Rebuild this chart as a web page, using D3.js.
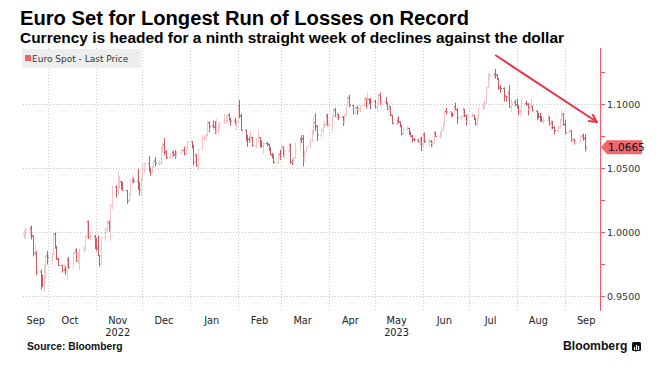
<!DOCTYPE html>
<html>
<head>
<meta charset="utf-8">
<script src="https://cdn.jsdelivr.net/npm/d3@7/dist/d3.min.js"></script>
<style>
  body { margin: 0; background: #fff; }
  svg text { font-family: "DejaVu Sans", sans-serif; }
</style>
</head>
<body>
<svg id="chart" width="666" height="376"></svg>
<script>
// daily EUR/USD bars, one value per weekday from 15 Sep 2022 to 15 Sep 2023
var closes = [
  0.9998,1.0016,1.0027,0.9971,0.9837,0.9837,0.9690,0.9607,0.9593,0.9735,0.9815,0.9802, // Sep
  0.9824,0.9986,0.9884,0.9792,0.9740,0.9700,0.9708,0.9703,0.9779,0.9723,0.9838,0.9857,0.9775,0.9779,0.9862,0.9880,0.9966,1.0079,0.9963,0.9966,0.9882, // Oct
  0.9877,0.9819,0.9750,0.9960,1.0019,1.0074,1.0011,1.0208,1.0354,1.0325,1.0351,1.0395,1.0363,1.0325,1.0244,1.0302,1.0397,1.0408,1.0398,1.0339,1.0332,1.0405, // Nov
  1.0523,1.0537,1.0492,1.0467,1.0506,1.0554,1.0537,1.0538,1.0629,1.0682,1.0627,1.0583,1.0608,1.0624,1.0604,1.0597,1.0618,1.0639,1.0639,1.0611,1.0661,1.0705, // Dec
  1.0669,1.0545,1.0606,1.0520,1.0645,1.0733,1.0735,1.0760,1.0855,1.0830,1.0821,1.0786,1.0796,1.0830,1.0856,1.0872,1.0885,1.0914,1.0890,1.0868,1.0847,1.0863, // Jan
  1.0990,1.0910,1.0797,1.0727,1.0725,1.0713,1.0740,1.0676,1.0723,1.0740,1.0688,1.0672,1.0694,1.0687,1.0650,1.0605,1.0595,1.0545,1.0608,1.0576, // Feb
  1.0668,1.0599,1.0635,1.0681,1.0546,1.0545,1.0581,1.0642,1.0731,1.0730,1.0577,1.0610,1.0669,1.0717,1.0770,1.0856,1.0830,1.0760,1.0800,1.0843,1.0844,1.0905,1.0839, // Mar
  1.0901,1.0955,1.0905,1.0920,1.0900,1.0862,1.0913,1.0994,1.1047,1.0992,1.0928,1.0972,1.0957,1.0966,1.0990,1.1046,1.0975,1.1040,1.1028,1.1020, // Apr
  1.0975,1.0996,1.1070,1.1012,1.1020,1.1005,1.0960,1.0983,1.0915,1.0850,1.0873,1.0862,1.0838,1.0769,1.0806,1.0812,1.0772,1.0751,1.0725,1.0722,1.0707,1.0732,1.0689, // May
  1.0762,1.0709,1.0713,1.0694,1.0698,1.0782,1.0749,1.0753,1.0792,1.0831,1.0945,1.0940,1.0922,1.0918,1.0982,1.0955,1.0894,1.0905,1.0961,1.0912,1.0867,1.0909, // Jun
  1.0913,1.0882,1.0853,1.0891,1.0968,1.0999,1.1010,1.1130,1.1226,1.1228,1.1238,1.1229,1.1200,1.1128,1.1124,1.1064,1.1055,1.1086,1.0978,1.1015,1.0998, // Jul
  1.0986,1.0937,1.0946,1.1006,1.1001,1.0958,1.0974,1.0981,1.0947,1.0905,1.0904,1.0876,1.0871,1.0872,1.0893,1.0846,1.0862,1.0818,1.0795,1.0817,1.0877,1.0923,1.0842, // Aug
  1.0773,1.0793,1.0723,1.0726,1.0697,1.0699,1.0750,1.0754,1.0733,1.0642,1.0665 // Sep
];
var highs = [
  1.0017,1.0036,1.0050,1.0051,0.9976,0.9908,0.9853,0.9709,0.9670,0.9750,0.9816,0.9853,
  0.9840,0.9999,0.9999,0.9894,0.9800,0.9748,0.9748,0.9735,0.9808,0.9808,0.9848,0.9874,0.9874,0.9846,0.9874,0.9892,0.9975,1.0094,1.0092,1.0004,0.9979,
  0.9954,0.9976,0.9820,0.9967,1.0033,1.0095,1.0093,1.0222,1.0365,1.0366,1.0481,1.0441,1.0398,1.0395,1.0330,1.0307,1.0413,1.0446,1.0425,1.0497,1.0394,1.0429,
  1.0533,1.0547,1.0595,1.0505,1.0520,1.0565,1.0588,1.0561,1.0673,1.0695,1.0736,1.0641,1.0619,1.0635,1.0637,1.0641,1.0631,1.0645,1.0654,1.0669,1.0675,1.0713,
  1.0713,1.0684,1.0619,1.0606,1.0651,1.0760,1.0761,1.0776,1.0868,1.0867,1.0875,1.0869,1.0888,1.0845,1.0858,1.0927,1.0905,1.0927,1.0930,1.0886,1.0895,1.0876,
  1.1000,1.1033,1.0928,1.0805,1.0760,1.0747,1.0790,1.0746,1.0737,1.0805,1.0745,1.0718,1.0705,1.0705,1.0693,1.0665,1.0620,1.0610,1.0615,1.0645,
  1.0691,1.0669,1.0644,1.0695,1.0693,1.0569,1.0588,1.0701,1.0736,1.0760,1.0760,1.0635,1.0671,1.0727,1.0803,1.0912,1.0930,1.0836,1.0808,1.0845,1.0871,1.0926,1.0925,
  1.0918,1.0973,1.0972,1.0940,1.0926,1.0909,1.0925,1.0998,1.1066,1.1075,1.0996,1.0980,1.0992,1.0975,1.0993,1.1048,1.1044,1.1096,1.1043,1.1050,
  1.1035,1.1010,1.1079,1.1092,1.1050,1.1055,1.1017,1.1000,1.0980,1.0917,1.0905,1.0905,1.0865,1.0839,1.0822,1.0832,1.0817,1.0787,1.0762,1.0735,1.0727,1.0745,1.0748,
  1.0780,1.0779,1.0732,1.0720,1.0713,1.0787,1.0785,1.0784,1.0823,1.0865,1.0950,1.0971,1.0935,1.0935,1.0985,1.1012,1.0972,1.0916,1.0976,1.0962,1.0918,1.0930,
  1.0934,1.0915,1.0897,1.0903,1.0975,1.1010,1.1035,1.1133,1.1245,1.1244,1.1244,1.1276,1.1233,1.1202,1.1150,1.1132,1.1066,1.1112,1.1149,1.1043,1.1034,
  1.1046,1.0990,1.0955,1.1043,1.1028,1.1007,1.1015,1.1040,1.0990,1.0954,1.0935,1.0934,1.0909,1.0894,1.0929,1.0906,1.0875,1.0870,1.0829,1.0829,1.0891,1.0945,1.0929,
  1.0882,1.0800,1.0796,1.0733,1.0730,1.0720,1.0759,1.0769,1.0770,1.0769,1.0675
];
var lows = [
  0.9955,0.9945,0.9966,0.9944,0.9812,0.9807,0.9667,0.9554,0.9573,0.9536,0.9635,0.9748,
  0.9752,0.9823,0.9872,0.9785,0.9737,0.9686,0.9685,0.9665,0.9632,0.9717,0.9732,0.9829,0.9769,0.9755,0.9706,0.9845,0.9860,0.9950,0.9947,0.9939,0.9868,
  0.9853,0.9812,0.9731,0.9749,0.9930,1.0000,1.0001,0.9935,1.0178,1.0271,1.0291,1.0338,1.0333,1.0326,1.0223,1.0235,1.0285,1.0379,1.0383,1.0331,1.0290,1.0289,
  1.0405,1.0462,1.0473,1.0443,1.0465,1.0504,1.0515,1.0520,1.0528,1.0620,1.0601,1.0571,1.0576,1.0576,1.0595,1.0575,1.0588,1.0617,1.0630,1.0601,1.0609,1.0641,
  1.0654,1.0520,1.0540,1.0512,1.0483,1.0646,1.0713,1.0718,1.0752,1.0781,1.0810,1.0768,1.0766,1.0771,1.0800,1.0849,1.0848,1.0857,1.0872,1.0835,1.0836,1.0800,
  1.0845,1.0893,1.0795,1.0709,1.0669,1.0699,1.0708,1.0670,1.0655,1.0703,1.0664,1.0661,1.0612,1.0670,1.0633,1.0603,1.0577,1.0537,1.0533,1.0565,
  1.0566,1.0588,1.0576,1.0628,1.0537,1.0524,1.0538,1.0577,1.0651,1.0698,1.0516,1.0551,1.0624,1.0660,1.0705,1.0758,1.0792,1.0713,1.0742,1.0776,1.0820,1.0834,1.0832,
  1.0788,1.0904,1.0901,1.0878,1.0879,1.0831,1.0860,1.0910,1.0990,1.0976,1.0921,1.0927,1.0916,1.0937,1.0936,1.0988,1.0967,1.0965,1.1000,1.0962,
  1.0968,1.0942,1.0994,1.0996,1.0967,1.0999,1.0953,1.0941,1.0907,1.0848,1.0836,1.0849,1.0820,1.0759,1.0761,1.0790,1.0760,1.0747,1.0702,1.0711,1.0701,1.0675,1.0635,
  1.0663,1.0700,1.0675,1.0667,1.0667,1.0695,1.0746,1.0732,1.0749,1.0796,1.0833,1.0920,1.0904,1.0899,1.0915,1.0955,1.0845,1.0877,1.0896,1.0900,1.0834,1.0867,
  1.0897,1.0880,1.0834,1.0833,1.0881,1.0952,1.0963,1.1000,1.1126,1.1185,1.1208,1.1201,1.1189,1.1113,1.1090,1.1022,1.1020,1.1029,1.0973,1.0944,1.0983,
  1.0966,1.0912,1.0912,1.0928,1.0987,1.0914,1.0960,1.0968,1.0948,1.0876,1.0891,1.0865,1.0860,1.0847,1.0866,1.0835,1.0802,1.0806,1.0765,1.0782,1.0808,1.0868,1.0833,
  1.0771,1.0776,1.0706,1.0703,1.0686,1.0686,1.0702,1.0731,1.0715,1.0632,1.0632
];

var monthLabels = ["Sep","Oct","Nov","Dec","Jan","Feb","Mar","Apr","May","Jun","Jul","Aug","Sep"];
var yearLabels = ["2022","2023"];
var yearUnder = [2, 8]; // index in monthLabels
var yTicks = [0.95, 1.0, 1.05, 1.1];
var yMinor = [0.975, 1.025, 1.075, 1.125];
var lastPrice = 1.0665;
var arrowFrom = ["2023-07-18", 1.1385];
var arrowTo = ["2023-09-22", 1.0862];

var svg = d3.select("#chart");
var parse = d3.timeParse("%Y-%m-%d");

var plotL = 23, plotR = 600, plotT = 48, plotB = 311;
var x = d3.scaleTime()
  .domain([new Date(2022, 8, 14, 12), new Date(2023, 8, 24)])
  .range([plotL, plotR]);
var y = d3.scaleLinear().domain([0.9385, 1.144]).range([plotB, plotT]);

// weekdays
var days = d3.timeDay.range(new Date(2022, 8, 15), new Date(2023, 8, 16))
  .filter(function(d) { return d.getDay() !== 0 && d.getDay() !== 6; });
var n = Math.min(days.length, closes.length, highs.length, lows.length);
var bars = [];
for (var i = 0; i < n; i++) {
  bars.push({
    date: days[i],
    open: i > 0 ? closes[i - 1] : 0.9980,
    high: highs[i], low: lows[i], close: closes[i]
  });
}

// titles
svg.append("text").attr("x", 20).attr("y", 25)
  .attr("textLength", 449).attr("lengthAdjust", "spacingAndGlyphs")
  .style("font-family", "'Liberation Sans', Arial, sans-serif")
  .style("font-weight", "bold").style("font-size", "20px").attr("fill", "#000")
  .text("Euro Set for Longest Run of Losses on Record");
svg.append("text").attr("x", 20).attr("y", 43)
  .attr("textLength", 544).attr("lengthAdjust", "spacingAndGlyphs")
  .style("font-family", "'Liberation Sans', Arial, sans-serif")
  .style("font-weight", "bold").style("font-size", "15px").attr("fill", "#000")
  .text("Currency is headed for a ninth straight week of declines against the dollar");

// grid
var monthStarts = d3.timeMonth.range(new Date(2022, 8, 1), new Date(2023, 9, 1))
  .filter(function(d) { return x(d) > plotL && x(d) < plotR; });
svg.append("g").selectAll("line").data(monthStarts).enter().append("line")
  .attr("x1", function(d) { return Math.round(x(d)) + 0.5; })
  .attr("x2", function(d) { return Math.round(x(d)) + 0.5; })
  .attr("y1", plotT).attr("y2", plotB)
  .attr("stroke", "#cfcfcf").attr("stroke-dasharray", "1,2");
svg.append("g").selectAll("line").data(yTicks).enter().append("line")
  .attr("x1", plotL).attr("x2", plotR)
  .attr("y1", function(d) { return Math.round(y(d)) + 0.5; })
  .attr("y2", function(d) { return Math.round(y(d)) + 0.5; })
  .attr("stroke", "#c4c4c4").attr("stroke-dasharray", "1,2");

// legend
var lg = svg.append("g");
lg.append("rect").attr("x", 22).attr("y", 49).attr("width", 119).attr("height", 19).attr("fill", "#eeeeee");
lg.append("rect").attr("x", 25).attr("y", 55).attr("width", 6).attr("height", 6).attr("fill", "#f0606a");
lg.append("text").attr("x", 32).attr("y", 61.5).style("font-size", "9px").attr("fill", "#333")
  .text("Euro Spot - Last Price");

// bars
var bg = svg.append("g");
bars.forEach(function(b) {
  var cx = Math.round(x(b.date)) + 0.5;
  var col = b.close < b.open ? "#c95a64" : "#f6c3c7";
  bg.append("line").attr("x1", cx).attr("x2", cx)
    .attr("y1", y(b.high)).attr("y2", y(b.low)).attr("stroke", col);
  bg.append("line").attr("x1", cx - 1.5).attr("x2", cx)
    .attr("y1", y(b.open)).attr("y2", y(b.open)).attr("stroke", col);
  bg.append("line").attr("x1", cx).attr("x2", cx + 1.5)
    .attr("y1", y(b.close)).attr("y2", y(b.close)).attr("stroke", col);
});

// right axis
svg.append("line").attr("x1", plotR + 0.5).attr("x2", plotR + 0.5)
  .attr("y1", plotT).attr("y2", plotB).attr("stroke", "#ee5a68");
svg.append("g").selectAll("line").data(yTicks.concat(yMinor)).enter().append("line")
  .attr("x1", plotR).attr("x2", plotR + 5)
  .attr("y1", function(d) { return Math.round(y(d)) + 0.5; })
  .attr("y2", function(d) { return Math.round(y(d)) + 0.5; })
  .attr("stroke", "#ee5a68");
svg.append("g").selectAll("text").data(yTicks).enter().append("text")
  .attr("x", plotR + 7).attr("y", function(d) { return y(d) + 3.5; })
  .style("font-size", "9.5px").attr("fill", "#333")
  .text(function(d) { return d.toFixed(4); });

// last price tag
var ly = y(lastPrice);
svg.append("path")
  .attr("d", "M" + (plotR + 1) + "," + ly + "L" + (plotR + 7) + "," + (ly - 7) +
    "H642V" + (ly + 7) + "H" + (plotR + 7) + "Z")
  .attr("fill", "#f2666e");
svg.append("text").attr("x", plotR + 8).attr("y", ly + 4)
  .style("font-size", "10.5px").attr("fill", "#111").text(lastPrice.toFixed(4));

// x labels, centred on the 15th (first one centred on its visible part)
var monthPos = monthLabels.map(function(m, i) {
  if (i === 0) return (plotL + x(new Date(2022, 9, 1))) / 2;
  return x(new Date(2022, 8 + i, 15));
});
svg.append("g").selectAll("text").data(monthLabels).enter().append("text")
  .attr("x", function(d, i) { return monthPos[i]; }).attr("y", 324)
  .attr("text-anchor", "middle").style("font-size", "9.8px").attr("fill", "#222")
  .text(function(d) { return d; });
svg.append("g").selectAll("text").data(yearLabels).enter().append("text")
  .attr("x", function(d, i) { return monthPos[yearUnder[i]]; })
  .attr("y", 336).attr("text-anchor", "middle").style("font-size", "9.8px").attr("fill", "#222")
  .text(function(d) { return d; });

// annotation arrow
svg.append("defs").append("marker").attr("id", "head")
  .attr("viewBox", "0 0 10 10").attr("refX", 9).attr("refY", 5)
  .attr("markerWidth", 10).attr("markerHeight", 10).attr("markerUnits", "userSpaceOnUse")
  .attr("orient", "auto")
  .append("path").attr("d", "M1,1L9,5L1,9").attr("fill", "none")
  .attr("stroke", "#e8334a").attr("stroke-width", 2);
svg.append("line")
  .attr("x1", x(parse(arrowFrom[0]))).attr("y1", y(arrowFrom[1]))
  .attr("x2", x(parse(arrowTo[0]))).attr("y2", y(arrowTo[1]))
  .attr("stroke", "#e8334a").attr("stroke-width", 2).attr("marker-end", "url(#head)");

// footer
svg.append("text").attr("x", 27).attr("y", 350)
  .style("font-family", "'Liberation Sans', Arial, sans-serif")
  .style("font-weight", "bold").style("font-size", "10.3px").attr("fill", "#111")
  .text("Source: Bloomberg");
svg.append("text").attr("x", 563).attr("y", 350)
  .style("font-family", "'Liberation Sans', Arial, sans-serif")
  .style("font-weight", "bold").style("font-size", "12.2px").attr("fill", "#111")
  .text("Bloomberg");
var logo = svg.append("g").attr("transform", "translate(632,342)");
logo.append("rect").attr("width", 9).attr("height", 9).attr("rx", 1.5).attr("fill", "#111");
logo.append("path").attr("d", "M3,3V9L4.5,10.5V9").attr("fill", "#111");
[[2, 5, 1.2, 3], [4, 3, 1.2, 5], [6, 4, 1.2, 4]].forEach(function(r) {
  logo.append("rect").attr("x", r[0]).attr("y", r[1]).attr("width", r[2]).attr("height", r[3]).attr("fill", "#fff");
});
</script>
</body>
</html>
